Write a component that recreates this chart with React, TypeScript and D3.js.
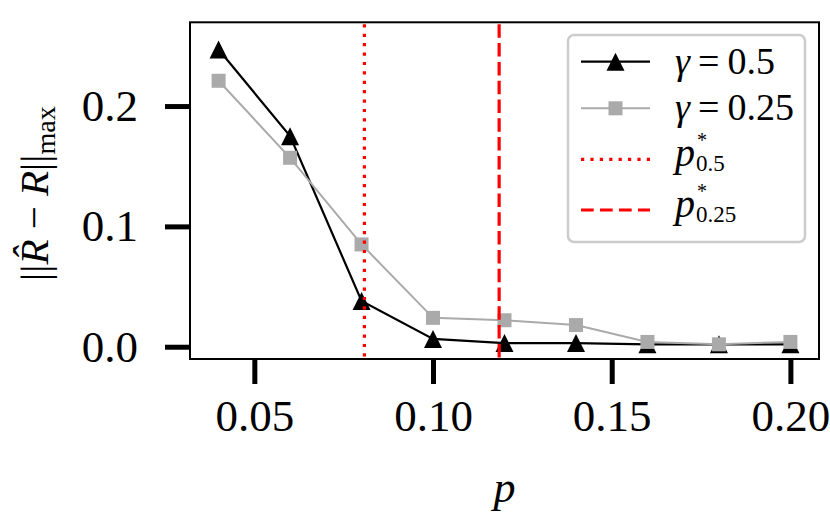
import * as d3 from "d3";
import { useEffect, useRef } from "react";

// sampled probabilities p
const pValues = [0.04, 0.06, 0.08, 0.1, 0.12, 0.14, 0.16, 0.18, 0.2];
// ||R_hat - R||_max for each gamma
const errGamma05 = [0.247, 0.175, 0.038, 0.0065, 0.003, 0.003, 0.002, 0.002, 0.002];
const errGamma025 = [0.221, 0.157, 0.085, 0.024, 0.022, 0.018, 0.004, 0.002, 0.004];
// thresholds p*
const pStar05 = 0.0808;
const pStar025 = 0.1185;

const xTicks = [0.05, 0.1, 0.15, 0.2];
const yTicks = [0.0, 0.1, 0.2];
const gammaLabels = ["0.5", "0.25"];
const starLabels = ["0.5", "0.25"];

const FONT = "'Liberation Serif', 'Times New Roman', serif";
const TRI = "M0,-9L9,9L-9,9Z";

export default function App() {
  const ref = useRef<SVGSVGElement | null>(null);

  useEffect(() => {
    if (!ref.current) return;
    const svg = d3.select(ref.current);
    svg.selectAll("*").remove();

    const width = 830;
    const height = 518;
    const margin = { top: 22.3, right: 11, bottom: 159, left: 190 };
    const x0 = margin.left;
    const x1 = width - margin.right;
    const y0 = height - margin.bottom;
    const y1 = margin.top;

    const x = d3.scaleLinear().domain([0.032, 0.208]).range([x0, x1]);
    const y = d3.scaleLinear().domain([-0.0102, 0.2696]).range([y0, y1]);

    svg.attr("font-family", FONT);

    // x ticks
    const gx = svg
      .append("g")
      .attr("transform", `translate(0,${y0})`)
      .call(
        d3.axisBottom(x)
          .tickValues(xTicks)
          .tickFormat(d3.format(".2f"))
          .tickSize(25)
          .tickPadding(15)
      );
    gx.attr("font-family", FONT);
    gx.select(".domain").remove();
    gx.selectAll("line").attr("stroke", "#000").attr("stroke-width", 5);
    gx.selectAll("text").attr("font-size", 45).attr("fill", "#000");

    // y ticks
    const gy = svg
      .append("g")
      .attr("transform", `translate(${x0},0)`)
      .call(
        d3.axisLeft(y)
          .tickValues(yTicks)
          .tickFormat(d3.format(".1f"))
          .tickSize(25)
          .tickPadding(27)
      );
    gy.attr("font-family", FONT);
    gy.select(".domain").remove();
    gy.selectAll("line").attr("stroke", "#000").attr("stroke-width", 5);
    gy.selectAll("text").attr("font-size", 45).attr("fill", "#000");

    const plot = svg.append("g");

    const line = d3
      .line<[number, number]>()
      .x((d) => x(d[0]))
      .y((d) => y(d[1]));

    // gamma = 0.5
    const s05 = pValues.map((p, i) => [p, errGamma05[i]] as [number, number]);
    plot.append("path")
      .attr("d", line(s05))
      .attr("fill", "none")
      .attr("stroke", "#000")
      .attr("stroke-width", 2.2);
    plot.selectAll(".tri")
      .data(s05)
      .join("path")
      .attr("class", "tri")
      .attr("transform", (d) => `translate(${x(d[0])},${y(d[1])})`)
      .attr("d", TRI)
      .attr("fill", "#000");

    // gamma = 0.25
    const s025 = pValues.map((p, i) => [p, errGamma025[i]] as [number, number]);
    plot.append("path")
      .attr("d", line(s025))
      .attr("fill", "none")
      .attr("stroke", "#aaaaaa")
      .attr("stroke-width", 2);
    plot.selectAll(".sq")
      .data(s025)
      .join("rect")
      .attr("class", "sq")
      .attr("x", (d) => x(d[0]) - 7)
      .attr("y", (d) => y(d[1]) - 7)
      .attr("width", 14)
      .attr("height", 14)
      .attr("fill", "#aaaaaa");

    // thresholds
    plot.append("line")
      .attr("x1", x(pStar05)).attr("x2", x(pStar05))
      .attr("y1", y1).attr("y2", y0)
      .attr("stroke", "#ff0000")
      .attr("stroke-width", 3.2)
      .attr("stroke-dasharray", "3.2,6.2")
      .attr("stroke-dashoffset", -2);
    plot.append("line")
      .attr("x1", x(pStar025)).attr("x2", x(pStar025))
      .attr("y1", y1).attr("y2", y0)
      .attr("stroke", "#ff0000")
      .attr("stroke-width", 3.2)
      .attr("stroke-dasharray", "13.5,5.3")
      .attr("stroke-dashoffset", -2);

    // frame
    svg.append("rect")
      .attr("x", x0).attr("y", y1)
      .attr("width", x1 - x0).attr("height", y0 - y1)
      .attr("fill", "none")
      .attr("stroke", "#000")
      .attr("stroke-width", 2);

    // legend
    const lg = svg.append("g");
    lg.append("rect")
      .attr("x", 568).attr("y", 35)
      .attr("width", 237).attr("height", 207)
      .attr("rx", 6)
      .attr("fill", "#fff")
      .attr("fill-opacity", 0.8)
      .attr("stroke", "#cccccc")
      .attr("stroke-width", 2.5);

    const lx0 = 581;
    const lx1 = 650;
    const lxm = (lx0 + lx1) / 2;
    const tx = 675;
    const rows = [61.7, 108.3, 159.3, 210];

    lg.append("line")
      .attr("x1", lx0).attr("x2", lx1).attr("y1", rows[0]).attr("y2", rows[0])
      .attr("stroke", "#000").attr("stroke-width", 2.2);
    lg.append("path")
      .attr("transform", `translate(${lxm},${rows[0]})`)
      .attr("d", TRI)
      .attr("fill", "#000");

    lg.append("line")
      .attr("x1", lx0).attr("x2", lx1).attr("y1", rows[1]).attr("y2", rows[1])
      .attr("stroke", "#aaaaaa").attr("stroke-width", 2);
    lg.append("rect")
      .attr("x", lxm - 7).attr("y", rows[1] - 7)
      .attr("width", 14).attr("height", 14)
      .attr("fill", "#aaaaaa");

    lg.append("line")
      .attr("x1", lx0).attr("x2", 652).attr("y1", rows[2]).attr("y2", rows[2])
      .attr("stroke", "#ff0000").attr("stroke-width", 3.2)
      .attr("stroke-dasharray", "3.2,6.2");
    lg.append("line")
      .attr("x1", lx0).attr("x2", lx1).attr("y1", rows[3]).attr("y2", rows[3])
      .attr("stroke", "#ff0000").attr("stroke-width", 3.2)
      .attr("stroke-dasharray", "12.7,6.3");

    gammaLabels.forEach((g, i) => {
      const t = lg.append("text")
        .attr("x", tx)
        .attr("y", rows[i] + 12)
        .attr("font-size", 38)
        .attr("fill", "#000");
      t.append("tspan").attr("font-style", "italic").text("γ");
      t.append("tspan").attr("dx", 8).text("=");
      t.append("tspan").attr("dx", 8).text(g);
    });

    starLabels.forEach((s, i) => {
      const by = rows[i + 2] + 7;
      const t = lg.append("text")
        .attr("x", tx)
        .attr("y", by)
        .attr("font-size", 40)
        .attr("fill", "#000");
      t.append("tspan").attr("font-style", "italic").text("p");
      t.append("tspan").attr("font-size", 20).attr("dx", 2).attr("dy", -19).text("*");
      t.append("tspan").attr("font-size", 23).attr("dx", -11).attr("dy", 24).text(s);
    });

    // axis labels
    svg.append("text")
      .attr("x", (x0 + x1) / 2)
      .attr("y", 502)
      .attr("text-anchor", "middle")
      .attr("font-size", 44)
      .attr("font-style", "italic")
      .attr("fill", "#000")
      .text("p");

    const yl = svg.append("text")
      .attr("transform", `translate(48,${(y0 + y1) / 2 + 3}) rotate(-90)`)
      .attr("text-anchor", "middle")
      .attr("font-size", 41)
      .attr("fill", "#000");
    yl.append("tspan").text("||");
    yl.append("tspan").attr("font-style", "italic").text("R\u0302");
    yl.append("tspan").text(" − ");
    yl.append("tspan").attr("font-style", "italic").text("R");
    yl.append("tspan").text("||");
    yl.append("tspan").attr("font-size", 28).attr("dy", 7).text("max");
  }, []);

  return (
    <>
      <style>{`body{margin:0}`}</style>
      <svg
        ref={ref}
        width={830}
        height={518}
        viewBox="0 0 830 518"
        style={{ display: "block", fontFamily: FONT }}
      />
    </>
  );
}
